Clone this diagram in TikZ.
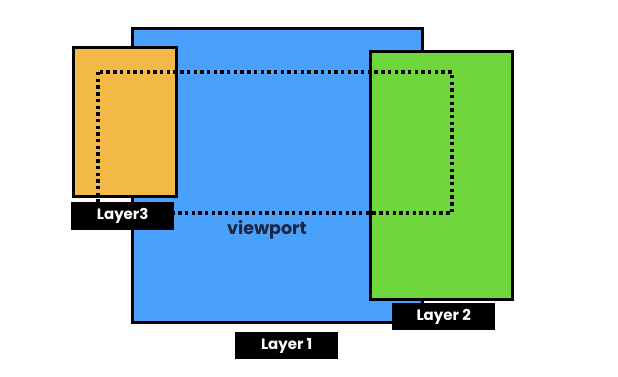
\documentclass[tikz,border=0pt]{standalone}
\usepackage{fontspec}
\setmainfont{Poppins}
\begin{document}
\begin{tikzpicture}[x=1pt,y=-1pt,
  layer/.style={draw=black,line width=3pt,inner sep=0pt,anchor=north west},
  tag/.style={fill=black,text=white,inner sep=0pt,anchor=north west,font=\fontsize{15}{17}\selectfont\bfseries},
  dotline/.style={line width=3.6pt,dash pattern=on 3.4pt off 3.3pt}]
\useasboundingbox[fill=white] (0,0) rectangle (618,376);
\definecolor{lblue}{HTML}{4AA0FD}
\definecolor{lorange}{HTML}{F3B946}
\definecolor{lgreen}{HTML}{6FD63B}
\definecolor{navy}{HTML}{1C2540}
\node[layer,fill=lblue,minimum width=290pt,minimum height=294pt] (l1) at (131,27) {};
\node[layer,fill=lorange,minimum width=103pt,minimum height=149pt] (l3) at (72,46) {};
\node[layer,fill=lgreen,minimum width=142pt,minimum height=248pt] (l2) at (369,50) {};
\coordinate (vtl) at (98,72);
\coordinate (vbr) at (452,213);
\draw[dotline] (vtl) rectangle (vbr);
\node[font=\fontsize{17.5}{20}\selectfont\bfseries,text=navy] (vp) at (267,230) {viewport};
\node[tag,minimum width=103pt,minimum height=28pt] (t3) at (71,202) {Layer3};
\node[tag,minimum width=103pt,minimum height=27pt] (t2) at (392,303) {Layer 2};
\node[tag,minimum width=103pt,minimum height=27pt] (t1) at (235,332) {Layer 1};
\end{tikzpicture}
\end{document}
